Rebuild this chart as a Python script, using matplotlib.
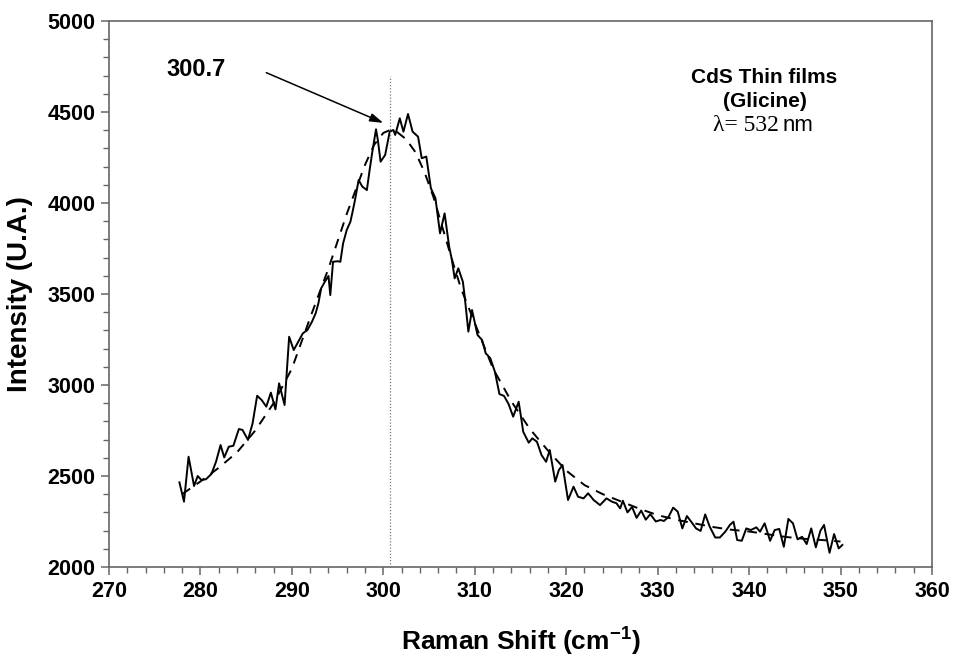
import matplotlib.pyplot as plt
from matplotlib.ticker import MultipleLocator

# Espectro Raman medido (cm-1, intensidad)
raman_shift = [277.7, 278.2, 278.7, 279.3, 279.7, 280.1, 280.6, 281.2, 281.7, 282.2,
               282.6, 283.1, 283.6, 284.2, 284.6, 285.2, 285.7, 286.2, 286.7, 287.2,
               287.7, 288.2, 288.6, 289.2, 289.7, 290.2, 290.7, 291.2, 291.7, 292.2,
               292.6, 292.9, 293.2, 293.6, 294.0, 294.2, 294.5, 295.0, 295.3, 295.6,
               296.0, 296.4, 296.6, 296.9, 297.3, 297.7, 298.2, 298.5, 298.8, 299.2,
               299.4, 299.7, 300.2, 300.7, 301.1, 301.3, 301.8, 302.2, 302.7, 303.2,
               303.8, 304.2, 304.7, 305.2, 305.7, 306.2, 306.7, 307.2, 307.5, 307.8,
               308.2, 308.7, 308.9, 309.3, 309.7, 310.1, 310.3, 310.8, 311.2, 311.7,
               312.2, 312.7, 313.2, 313.7, 314.2, 314.8, 315.0, 315.3, 315.9, 316.3,
               316.8, 317.3, 317.8, 318.2, 318.8, 319.2, 319.6, 320.2, 320.8, 321.3,
               321.9, 322.4, 323.0, 323.7, 324.4, 325.0, 325.5, 325.9, 326.2, 326.7,
               327.2, 327.7, 328.2, 328.7, 329.2, 329.8, 330.3, 330.7, 331.2, 331.7,
               332.2, 332.7, 333.2, 333.8, 334.2, 334.7, 335.2, 335.7, 336.3, 336.8,
               337.4, 337.9, 338.3, 338.7, 339.2, 339.7, 340.2, 340.8, 341.2, 341.7,
               342.3, 342.8, 343.3, 343.8, 344.3, 344.8, 345.3, 345.8, 346.3, 346.8,
               347.3, 347.8, 348.2, 348.8, 349.3, 349.8, 350.2]
intensity = [2465, 2359, 2606, 2445, 2500, 2478, 2482, 2511, 2578, 2670,
             2602, 2661, 2666, 2758, 2753, 2698, 2789, 2941, 2917, 2881,
             2958, 2866, 3009, 2890, 3265, 3192, 3238, 3284, 3302, 3348,
             3394, 3449, 3531, 3567, 3599, 3494, 3677, 3680, 3677, 3778,
             3852, 3897, 3943, 4016, 4126, 4090, 4071, 4181, 4282, 4405,
             4346, 4227, 4264, 4392, 4401, 4374, 4465, 4392, 4489, 4392,
             4364, 4246, 4255, 4081, 4026, 3833, 3943, 3760, 3687, 3586,
             3641, 3567, 3485, 3293, 3412, 3320, 3275, 3247, 3174, 3147,
             3073, 2950, 2940, 2895, 2826, 2908, 2844, 2743, 2683, 2707,
             2688, 2615, 2578, 2643, 2469, 2533, 2560, 2368, 2441, 2386,
             2377, 2405, 2368, 2340, 2377, 2359, 2350, 2322, 2364, 2300,
             2330, 2270, 2310, 2260, 2290, 2250, 2258, 2253, 2276, 2326,
             2304, 2212, 2280, 2240, 2212, 2198, 2289, 2221, 2162, 2162,
             2194, 2231, 2249, 2148, 2144, 2212, 2203, 2218, 2194, 2240,
             2144, 2203, 2209, 2111, 2264, 2240, 2152, 2166, 2126, 2212,
             2108, 2199, 2231, 2078, 2181, 2102, 2121]

# Curva de ajuste (línea discontinua)
fit_shift = [278, 280, 282, 284, 286, 288, 290, 292, 294, 296, 298, 299, 300, 300.7,
             301.5, 302.5, 303.5, 304.5, 305.5, 306.5, 307.5, 308.5, 310, 312, 314,
             316, 318, 320, 322, 324, 326, 328, 330, 332, 334, 336, 338, 340, 342,
             344, 346, 348, 350]
fit_intensity = [2400, 2470, 2545, 2630, 2750, 2900, 3090, 3370, 3640, 3940, 4210,
                 4320, 4385, 4400, 4390, 4350, 4280, 4170, 4030, 3860, 3690, 3530,
                 3340, 3090, 2910, 2760, 2640, 2530, 2450, 2400, 2360, 2320, 2285,
                 2260, 2240, 2220, 2205, 2195, 2180, 2165, 2155, 2148, 2140]

peak_pos = 300.7

plt.rcParams['font.family'] = ['Liberation Sans', 'DejaVu Sans']
plt.rcParams['mathtext.fontset'] = 'custom'
plt.rcParams['mathtext.rm'] = 'Liberation Sans'
plt.rcParams['mathtext.bf'] = 'Liberation Sans:bold'

fig = plt.figure(figsize=(9.58, 6.64), dpi=100)
ax = fig.add_axes([0.1138, 0.1461, 0.859, 0.8223])

ax.plot(raman_shift, intensity, color='black', lw=1.4)
ax.plot(fit_shift, fit_intensity, color='black', lw=1.4, dashes=(5, 4))
ax.plot([peak_pos, peak_pos], [2000, 4700], color='#777777', lw=0.9, ls=(0, (1, 1.5)))

ax.annotate('', xy=(300.0, 4440), xytext=(287.2, 4716),
            arrowprops=dict(arrowstyle='-|>,head_length=0.8,head_width=0.25',
                            color='black', lw=1.1, shrinkA=0, shrinkB=0))
ax.text(279.5, 4731, f'{peak_pos}', ha='center', va='center',
        fontsize=17, fontweight='bold')

ax.text(341.7, 4687, 'CdS Thin films', ha='center', va='center',
        fontsize=15, fontweight='bold')
ax.text(341.7, 4555, '(Glicine)', ha='center', va='center',
        fontsize=15, fontweight='bold')
ax.text(343.3, 4423, '\u03bb= 532', ha='right', va='center', fontsize=17,
        family=['Liberation Serif', 'DejaVu Serif'])
ax.text(343.7, 4423, 'nm', ha='left', va='center', fontsize=16)

ax.set_xlim(270, 360)
ax.set_ylim(2000, 5000)
ax.xaxis.set_major_locator(MultipleLocator(10))
ax.xaxis.set_minor_locator(MultipleLocator(2))
ax.yaxis.set_major_locator(MultipleLocator(500))
ax.yaxis.set_minor_locator(MultipleLocator(100))

for side in ['left', 'bottom', 'top', 'right']:
    ax.spines[side].set_color('#666666')
    ax.spines[side].set_linewidth(1.2)
ax.tick_params(which='major', direction='out', length=6, width=1.1,
               color='#666666', labelsize=15.5, pad=4)
ax.tick_params(which='minor', direction='out', length=4, width=1.0,
               color='#666666')
for lbl in ax.get_xticklabels() + ax.get_yticklabels():
    lbl.set_fontweight('bold')

ax.set_xlabel('Raman Shift (cm$^{\\mathbf{-1}}$)', fontsize=19,
              fontweight='bold', labelpad=16)
ax.set_ylabel('Intensity (U.A.)', fontsize=20, fontweight='bold', labelpad=10)

fig.savefig('out.png', dpi=100)
